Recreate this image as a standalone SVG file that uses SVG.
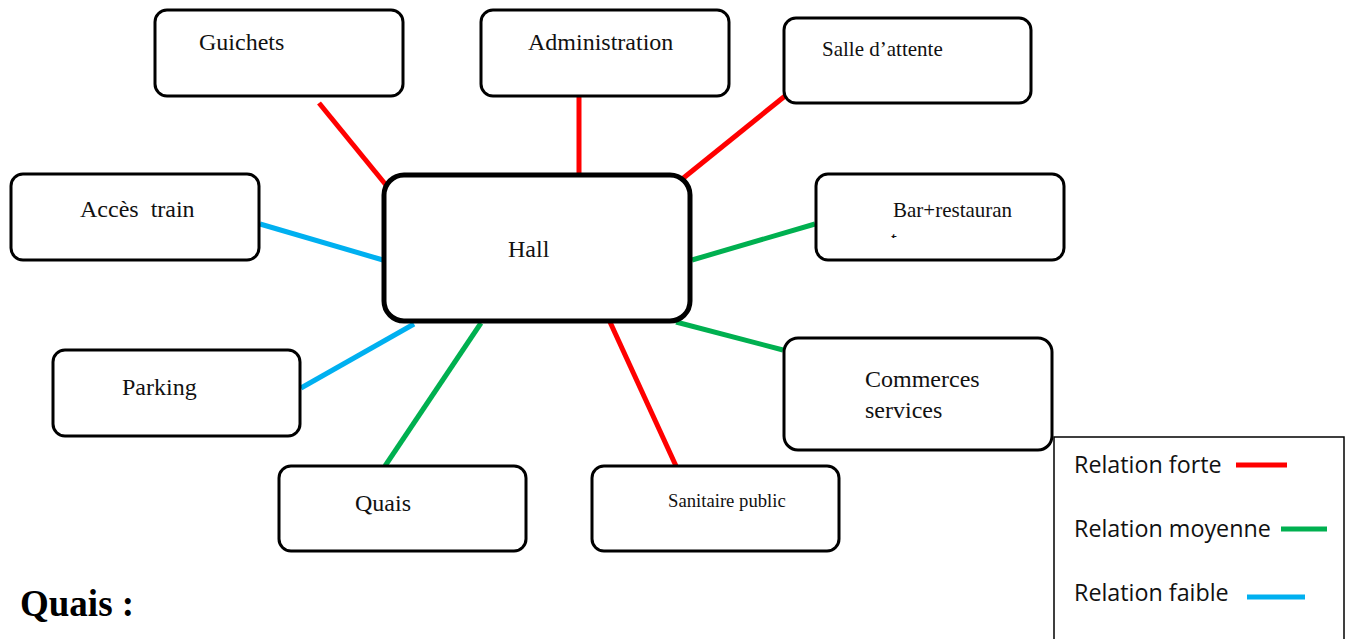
<svg xmlns="http://www.w3.org/2000/svg" width="1351" height="639" viewBox="0 0 1351 639">
<style>
.box{fill:#fff;stroke:#000;stroke-width:3}
.hall{fill:#fff;stroke:#000;stroke-width:5}
.t{font-family:"Liberation Serif",serif;font-size:24px;fill:#111}
.s{font-family:"Liberation Serif",serif;font-size:21px;fill:#111}
.lg{font-family:"Open Sans","Liberation Sans",sans-serif;font-size:23.3px;fill:#111}
.r{stroke:#ff0000;stroke-width:5}
.g{stroke:#00b050;stroke-width:5}
.b{stroke:#00b0f0;stroke-width:5}
</style>
<defs>
<clipPath id="clipT"><rect x="888" y="229" width="15" height="9"/></clipPath>
</defs>
<rect width="1351" height="639" fill="#fff"/>
<g id="connectors">
<line class="r" x1="319" y1="103" x2="386" y2="185"/>
<line class="r" x1="579" y1="97" x2="579" y2="175"/>
<line class="r" x1="785" y1="96" x2="676" y2="184"/>
<line class="b" x1="260" y1="224" x2="383" y2="260"/>
<line class="g" x1="815" y1="224" x2="692" y2="260"/>
<line class="b" x1="301" y1="388" x2="414" y2="324"/>
<line class="g" x1="385" y1="466" x2="481" y2="323"/>
<line class="r" x1="676" y1="466" x2="610" y2="322"/>
<line class="g" x1="783" y1="350" x2="676" y2="322"/>
</g>
<g id="guichets"><rect class="box" x="155" y="10" width="248" height="86" rx="12"/><text class="t" x="199" y="50">Guichets</text></g>
<g id="administration"><rect class="box" x="481" y="10" width="248" height="86" rx="12"/><text class="t" x="528" y="50">Administration</text></g>
<g id="salle"><rect class="box" x="784" y="18" width="247" height="85" rx="12"/><text class="s" x="822" y="56">Salle d’attente</text></g>
<g id="acces"><rect class="box" x="11" y="174" width="248" height="86" rx="12"/><text class="t" x="80" y="217" xml:space="preserve">Accès  train</text></g>
<g id="bar"><rect class="box" x="816" y="174" width="248" height="86" rx="12"/><text class="s" x="893" y="217">Bar+restauran</text><text class="s" x="891" y="246" clip-path="url(#clipT)">t</text></g>
<g id="hall"><rect class="hall" x="384" y="175" width="306" height="146" rx="20"/><text class="t" x="508" y="257">Hall</text></g>
<g id="parking"><rect class="box" x="53" y="350" width="247" height="86" rx="12"/><text class="t" x="122" y="395">Parking</text></g>
<g id="commerces"><rect class="box" x="784" y="338" width="268" height="112" rx="14"/><text class="t" x="865" y="387">Commerces</text><text class="t" x="865" y="418">services</text></g>
<g id="quais"><rect class="box" x="279" y="466" width="247" height="85" rx="12"/><text class="t" x="355" y="511">Quais</text></g>
<g id="sanitaire"><rect class="box" x="592" y="466" width="247" height="85" rx="12"/><text class="s" x="668" y="507" style="font-size:18.7px">Sanitaire public</text></g>
<g id="legend">
<rect x="1054" y="437" width="290" height="210" fill="#fff" stroke="#000" stroke-width="1.5"/>
<text class="lg" x="1074" y="473">Relation forte</text>
<line class="r" x1="1236" y1="465" x2="1287" y2="465"/>
<text class="lg" x="1074" y="537">Relation moyenne</text>
<line class="g" x1="1281" y1="529" x2="1327" y2="529"/>
<text class="lg" x="1074" y="601">Relation faible</text>
<line class="b" x1="1247" y1="597" x2="1305" y2="597"/>
</g>
<text x="20" y="616" style="font-family:'Liberation Serif',serif;font-size:37px;font-weight:bold;fill:#000">Quais :</text>
</svg>
